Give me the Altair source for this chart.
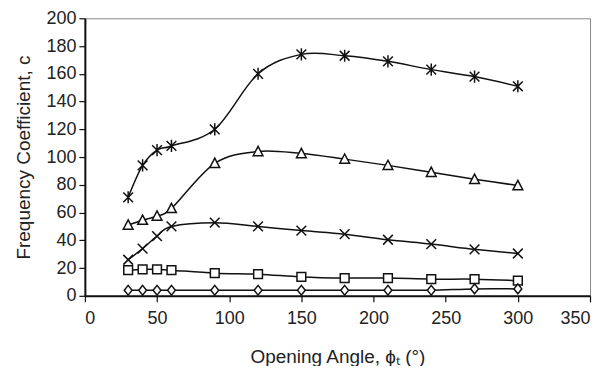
import altair as alt
import pandas as pd

angles = [30, 40, 50, 60, 90, 120, 150, 180, 210, 240, 270, 300]
star_vals = [71, 94, 105, 108, 120, 160, 174, 173, 169, 163, 158, 151]
tri_vals = [51, 54.5, 57.5, 63, 95.5, 104, 102.5, 98.5, 94, 89, 84, 79.5]
x_vals = [26, 34, 43, 50, 52.7, 50, 47, 44.4, 40.4, 37.3, 33.5, 30.5]
sq_vals = [18.5, 19, 19, 18.5, 16.3, 15.6, 13.6, 12.8, 12.8, 12, 12, 11]
dia_vals = [4, 4, 4, 4, 4, 4, 4, 4, 4, 4, 5, 5]

x_ticks = [0, 50, 100, 150, 200, 250, 300, 350]
y_ticks = [0, 20, 40, 60, 80, 100, 120, 140, 160, 180, 200]

series_names = ["star", "triangle", "x", "square", "diamond"]
series_vals = [star_vals, tri_vals, x_vals, sq_vals, dia_vals]
shape_paths = [
    "M-1,-1L1,1M-1,1L1,-1M0,-1.25L0,1.25",
    "M0,-1.05L1,0.85L-1,0.85Z",
    "M-1,-1L1,1M-1,1L1,-1",
    "M-0.9,-0.9L0.9,-0.9L0.9,0.9L-0.9,0.9Z",
    "M0,-1L0.8,0L0,1L-0.8,0Z",
]

rows = []
for name, vals in zip(series_names, series_vals):
    for a, v in zip(angles, vals):
        rows.append({"angle": a, "c": v, "series": name})
df = pd.DataFrame(rows)

x_enc = alt.X("angle:Q", scale=alt.Scale(domain=[0, 350], nice=False),
              axis=alt.Axis(values=x_ticks, title="Opening Angle, ϕₜ (°)",
                            grid=False, labelOverlap=False))
y_enc = alt.Y("c:Q", scale=alt.Scale(domain=[0, 200], nice=False),
              axis=alt.Axis(values=y_ticks, title="Frequency Coefficient, c",
                            grid=False, labelOverlap=False))

base = alt.Chart(df).encode(x=x_enc, y=y_enc)
lines = base.mark_line(interpolate="cardinal", color="#111", strokeWidth=1.5).encode(
    detail="series:N")
points = base.mark_point(filled=False, fill="white", fillOpacity=1, stroke="#111",
                         strokeWidth=1.5, size=95, opacity=1).encode(
    shape=alt.Shape("series:N", scale=alt.Scale(domain=series_names, range=shape_paths),
                    legend=None))

chart = alt.layer(lines, points).properties(
    width=506, height=278,
    autosize=alt.AutoSizeParams(type="none"),
    padding={"left": 77, "top": 10, "right": 10, "bottom": 70},
).configure(font="Liberation Sans").configure_view(
    stroke="#888", strokeWidth=1
).configure_axis(
    domainColor="#111", domainWidth=2, tickColor="#111", tickWidth=1.2, tickSize=6,
    labelFont="Liberation Sans", labelFontSize=18, labelColor="#222", labelPadding=3,
    titleFont="Liberation Sans", titleFontSize=19, titleFontWeight="normal", titleColor="#222",
).configure_axisX(labelPadding=8, titlePadding=20).configure_axisY(titlePadding=12)

chart.save("out.html", embed_options={"renderer": "svg", "actions": False})
